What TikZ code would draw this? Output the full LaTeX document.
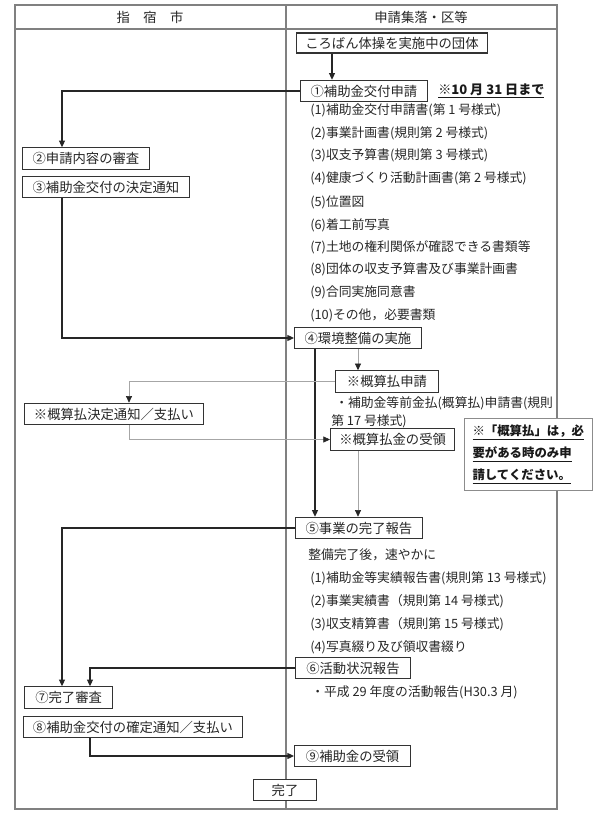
\documentclass[tikz,border=0pt]{standalone}
\usepackage{fontspec}
\setmainfont{Noto Sans CJK JP}
\usetikzlibrary{arrows.meta, positioning}

\begin{document}
\begin{tikzpicture}[
    x=0.75pt, y=-0.75pt,
    % frame and box styles
    tableline/.style={draw=black!50, line width=1.1pt},
    procbox/.style={
        draw=black!80,
        fill=white,
        line width=0.9pt,
        minimum height=16pt,
        inner xsep=4pt,
        inner ysep=2pt,
        anchor=west,
        text=black!85,
        font=\fontsize{10}{12}\selectfont
    },
    notebox/.style={draw=black!45, fill=white, line width=0.8pt, anchor=north west,
        align=left, inner xsep=6pt, inner ysep=5pt, text=black!90,
        font=\bfseries\fontsize{9.3}{16.5}\selectfont},
    itemtext/.style={anchor=west, inner sep=0pt, text=black!85, font=\fontsize{9.6}{12}\selectfont},
    headtext/.style={text=black!85, font=\fontsize{10}{12}\selectfont},
    % connector styles
    flow/.style={draw=black!85, line width=0.9pt, -{Triangle[length=5pt,width=4.5pt]}},
    graylink/.style={draw=black!35, line width=0.5pt, -{Triangle[length=5pt,width=4.5pt,color=black!85]}}
]
\useasboundingbox (0,0) rectangle (600,821);

% Table frame
\draw[tableline] (15,5) rectangle (557,809);
\draw[tableline] (15,29) -- (557,29);
\draw[tableline] (286,5) -- (286,809);
\node[headtext] (hcity) at (150,17) {指　宿　市};
\node[headtext] (harea) at (421,17) {申請集落・区等};

% Rails for the connectors
\coordinate (railL) at (62,0);
\coordinate (railB) at (90,0);
\coordinate (railK) at (129,0);
\coordinate (railT) at (332,0);
\coordinate (railS) at (315,0);
\coordinate (railG) at (358,0);

% Application
\node[procbox, minimum width=143pt, minimum height=15pt] (start) at (296,43) {ころばん体操を実施中の団体};
\node[procbox, minimum width=95pt] (n1) at (300,91) {①補助金交付申請};
\node[anchor=west, inner sep=0pt, text=black!90, font=\bfseries\fontsize{9.8}{12}\selectfont] (due) at (438,91) {\underline{※10 月 31 日まで}};

\node[itemtext] (a1) at (310,110) {(1)補助金交付申請書(第 1 号様式)};
\node[itemtext] (a2) at (310,133) {(2)事業計画書(規則第 2 号様式)};
\node[itemtext] (a3) at (310,155) {(3)収支予算書(規則第 3 号様式)};
\node[itemtext] (a4) at (310,178) {(4)健康づくり活動計画書(第 2 号様式)};
\node[itemtext] (a5) at (310,202) {(5)位置図};
\node[itemtext] (a6) at (310,225) {(6)着工前写真};
\node[itemtext] (a7) at (310,247) {(7)土地の権利関係が確認できる書類等};
\node[itemtext] (a8) at (310,269) {(8)団体の収支予算書及び事業計画書};
\node[itemtext] (a9) at (310,292) {(9)合同実施同意書};
\node[itemtext] (a10) at (310,315) {(10)その他，必要書類};

\node[procbox, minimum width=95pt] (n2) at (22,158.5) {②申請内容の審査};
\node[procbox, minimum width=125pt] (n3) at (22,187) {③補助金交付の決定通知};
\node[procbox, minimum width=95pt] (n4) at (294,338) {④環境整備の実施};

% Advance payment
\node[procbox, minimum width=77pt] (kreq) at (335,381.5) {※概算払申請};
\node[itemtext, align=left, font=\fontsize{9.6}{14}\selectfont, anchor=north west] (kdoc) at (331,396) {\hspace*{3pt}・補助金等前金払(概算払)申請書(規則\\第 17 号様式)};
\node[procbox, minimum width=134pt] (kdec) at (24,414) {※概算払決定通知／支払い};
\node[procbox, minimum width=93pt] (krecv) at (330,439.5) {※概算払金の受領};
\node[notebox] (note) at (464,418) {\underline{※「概算払」は，必}\\\underline{要がある時のみ申}\\\underline{請してください。}};

% Completion
\node[procbox, minimum width=95pt] (n5) at (295,528) {⑤事業の完了報告};
\node[itemtext] (b0) at (308,555) {整備完了後，速やかに};
\node[itemtext] (b1) at (310,578) {(1)補助金等実績報告書(規則第 13 号様式)};
\node[itemtext] (b2) at (310,601) {(2)事業実績書（規則第 14 号様式)};
\node[itemtext] (b3) at (310,624) {(3)収支精算書（規則第 15 号様式)};
\node[itemtext] (b4) at (310,647) {(4)写真綴り及び領収書綴り};
\node[procbox, minimum width=86pt] (n6) at (295,668) {⑥活動状況報告};
\node[itemtext] (c1) at (311,692) {・平成 29 年度の活動報告(H30.3 月)};
\node[procbox, minimum width=66pt] (n7) at (24,697.5) {⑦完了審査};
\node[procbox, minimum width=164pt] (n8) at (23,727) {⑧補助金交付の確定通知／支払い};
\node[procbox, minimum width=87pt] (n9) at (294,756) {⑨補助金の受領};
\node[procbox, anchor=center, minimum width=47pt] (done) at (285,790) {完了};

% Connectors
\draw[flow] (start.south -| railT) -- (n1.north -| railT);
\draw[flow] (n1.west) -| (n2.north -| railL);
\draw[flow] (n3.south -| railL) |- (n4.west);
\draw[flow] (n4.south -| railS) -- (n5.north -| railS);
\draw[graylink] (n4.south -| railG) -- (kreq.north -| railG);
\draw[graylink] (kreq.west) -| (kdec.north -| railK);
\draw[graylink] (kdec.south -| railK) |- (krecv.west);
\draw[graylink] (krecv.south -| railG) -- (n5.north -| railG);
\draw[flow] (n5.west) -| (n7.north -| railL);
\draw[flow] (n6.west) -| (n7.north -| railB);
\draw[flow] (n8.south -| railB) |- (n9.west);
\end{tikzpicture}
\end{document}
